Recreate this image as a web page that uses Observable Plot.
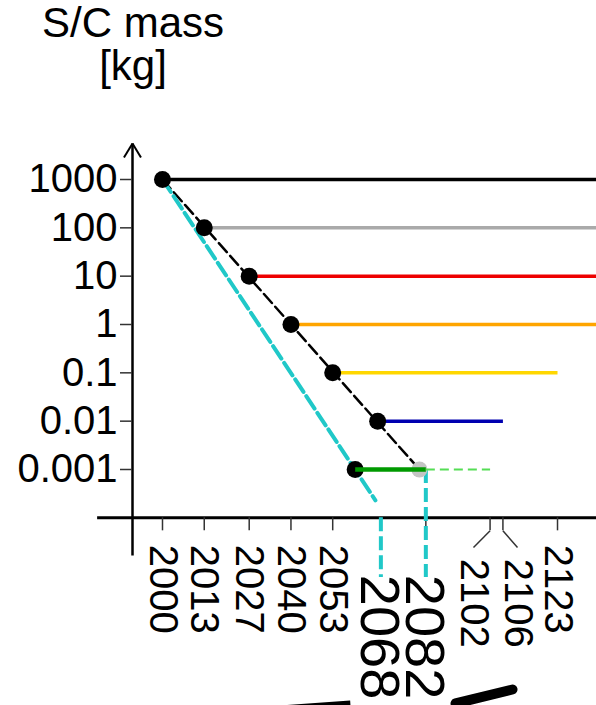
<!DOCTYPE html>
<html><head><meta charset="utf-8">
<script src="https://cdn.jsdelivr.net/npm/d3@7"></script>
<script src="https://cdn.jsdelivr.net/npm/@observablehq/plot@0.6"></script>
<style>
html,body{margin:0;padding:0;background:#fff;overflow:hidden;}
#title{height:110px;width:266px;text-align:center;font-family:"Liberation Sans",Arial,sans-serif;font-size:42px;line-height:43px;padding-top:1px;box-sizing:border-box;color:#000;}
#chart svg{display:block;}
</style></head><body>
<div id="title">S/C mass<br>[kg]</div>
<div id="chart"></div>
<script>
// ---- data ----
const stepYears   = [2000, 2013, 2027, 2040, 2053, 2067];
const stepMasses  = [1000, 100, 10, 1, 0.1, 0.01];
const stepEndYears = [2136, 2136, 2136, 2136, 2123, 2106];
const stepColors  = ["#000000", "#aaaaaa", "#ee0000", "#ffa500", "#ffd700", "#0000b0"];
const trendYears  = [2000, 2080];
const trendMasses = [1000, 0.001];
const fastYears   = [2000, 2066.3];
const fastMasses  = [1000, 0.00023];
const fastDotYear = 2060, fastDotMass = 0.001;
const grayDotYear = 2080, grayDotMass = 0.001;
const greenYears  = [2060, 2082];
const greenDashYears = [2082, 2102];
const greenMass   = 0.001;
const yTicks      = [1000, 100, 10, 1, 0.1, 0.01, 0.001];
const tickYears   = [2000, 2013, 2027, 2040, 2053, 2068, 2082, 2102, 2106, 2123];
const plainLabels = [2000, 2013, 2027, 2040, 2053, 2123];
const leaderLabels = [2102, 2106];
const leaderEndYears = [2096.84, 2110.55];
const bigLabels   = [2068, 2082];

// ---- layout (scale extents & annotation anchors, in data units) ----
const X0 = 1990.66, X1 = 2135.14;
const yBottom = 1e-4, yTop = 1e4;
const axisLeftYear = 1979.8, axisBelow = 1.66e-5, axisTip = 5560, headBase = 2851;
const tickEnd = 5.4e-5, leaderEnd = 2.43e-5, cyanDropEnd = 5.8e-6;

const steps = stepYears.map((y, i) => ({year: y, mass: stepMasses[i], end: stepEndYears[i], color: stepColors[i]}));
const trend = trendYears.map((y, i) => ({year: y, mass: trendMasses[i]}));
const fast = fastYears.map((y, i) => ({year: y, mass: fastMasses[i]}));
const leaders = leaderLabels.map((y, i) => ({year: y, end: leaderEndYears[i]}));

const font = "Liberation Sans, Arial, sans-serif";
const chart = Plot.plot({
  width: 596, height: 595,
  marginLeft: 132, marginRight: 0, marginTop: 20.67, marginBottom: 187.67,
  style: {fontFamily: font, background: "#fff"},
  x: {domain: [X0, X1]},
  y: {type: "log", domain: [yBottom, yTop]},
  marks: [
    // x axis line
    Plot.ruleY([yBottom], {x1: axisLeftYear, x2: X1 + 1, stroke: "#000", strokeWidth: 3}),
    // y axis line with arrow head
    Plot.link([0], {x1: X0, x2: X0, y1: axisBelow, y2: axisTip, stroke: "#000", strokeWidth: 2.5}),
    Plot.link([0, 1], {x1: X0, y1: axisTip, x2: i => i ? 1993.3 : 1988.0, y2: headBase, stroke: "#000", strokeWidth: 2}),
    Plot.axisY(yTicks, {tickSize: 12, tickPadding: 3, fontSize: 40, tickFormat: d => String(d), label: null, stroke: "#333", strokeWidth: 1.5, fontFamily: font}),
    Plot.axisX(tickYears, {tickSize: 13, tickFormat: () => "", label: null, stroke: "#333", strokeWidth: 1.5}),
    Plot.link(leaders, {x1: "year", x2: "end", y1: tickEnd, y2: leaderEnd, stroke: "#333", strokeWidth: 1.5}),
    // horizontal levels
    Plot.link(steps, {x1: "year", x2: "end", y1: "mass", y2: "mass", stroke: "color", strokeWidth: 3.5}),
    // trend lines
    Plot.line(trend, {x: "year", y: "mass", stroke: "#000", strokeWidth: 2.5, strokeDasharray: "12,5"}),
    Plot.line(fast, {x: "year", y: "mass", stroke: "#20c8c8", strokeWidth: 4, strokeDasharray: "15,5"}),
    Plot.ruleX([bigLabels[0]], {y1: yBottom, y2: cyanDropEnd, stroke: "#20c8c8", strokeWidth: 4, strokeDasharray: "14,5"}),
    Plot.ruleX([bigLabels[1]], {y1: greenMass, y2: cyanDropEnd, stroke: "#20c8c8", strokeWidth: 4, strokeDasharray: "14,5"}),
    // dots
    Plot.dot([0], {x: grayDotYear, y: grayDotMass, r: 8, fill: "#c4c4c4"}),
    Plot.dot(steps, {x: "year", y: "mass", r: 8.5, fill: "#000"}),
    Plot.dot([0], {x: fastDotYear, y: fastDotMass, r: 8.5, fill: "#000"}),
    // green segment
    Plot.link([0], {x1: greenYears[0], x2: greenYears[1], y1: greenMass, y2: greenMass, stroke: "#009a00", strokeWidth: 4.5}),
    Plot.link([0], {x1: greenDashYears[0], x2: greenDashYears[1], y1: greenMass, y2: greenMass, stroke: "#55dd55", strokeWidth: 2, strokeDasharray: "9,5"}),
    // x labels
    Plot.text(plainLabels, {x: d => d, text: d => String(d), frameAnchor: "bottom", rotate: 90, textAnchor: "start", lineAnchor: "middle", dy: 27, fontSize: 40, fill: "#000", fontFamily: font}),
    Plot.text(leaders, {x: "end", text: d => String(d.year), frameAnchor: "bottom", rotate: 90, textAnchor: "start", lineAnchor: "middle", dy: 41, fontSize: 40, fill: "#000", fontFamily: font}),
    Plot.text(bigLabels, {x: d => d, text: d => String(d), frameAnchor: "bottom", rotate: 90, textAnchor: "start", lineAnchor: "middle", dy: 57, dx: -2, fontSize: 56, fill: "#000", fontFamily: font}),
    // bottom pointer arrows
    Plot.link([0], {x1: 2036.74, y1: 10 ** -7.986, x2: 2058.54, y2: 10 ** -7.883, stroke: "#000", strokeWidth: 10}),
    Plot.link([0], {x1: 2108.99, y1: 10 ** -7.552, x2: 2091.24, y2: 10 ** -7.841, stroke: "#000", strokeWidth: 10, strokeLinecap: "round"})
  ]
});
document.getElementById("chart").append(chart);
</script>
</body></html>
